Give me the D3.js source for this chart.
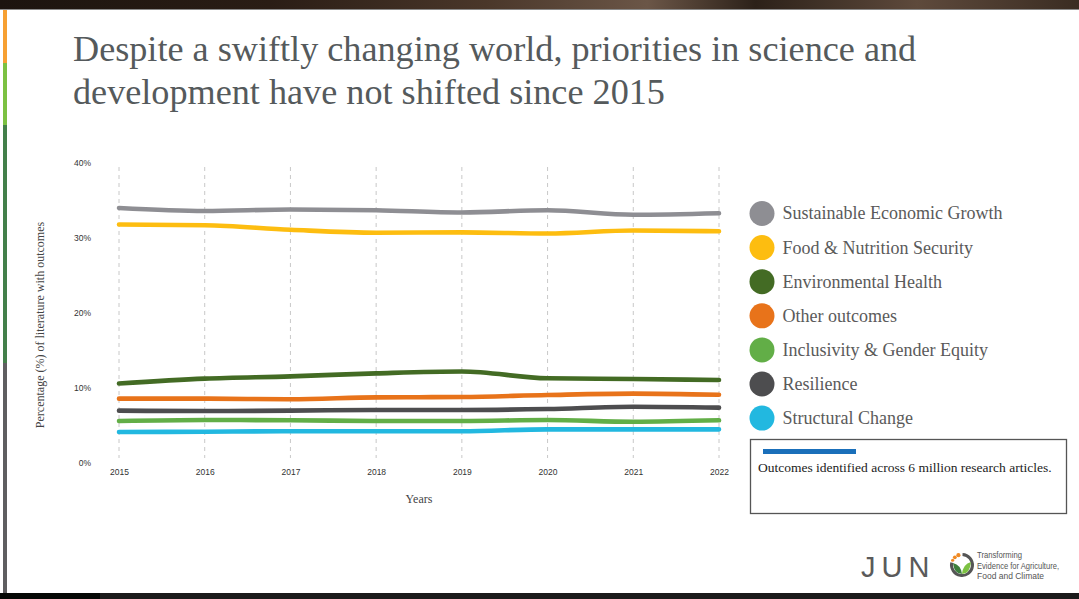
<!DOCTYPE html>
<html>
<head>
<meta charset="utf-8">
<script src="https://cdn.jsdelivr.net/npm/d3@7"></script>
<style>
  html, body { margin: 0; padding: 0; background: #fff; }
  svg { display: block; }
</style>
</head>
<body>
<div id="chart"></div>
<script>
// values (percent of literature)
const years = [2015, 2016, 2017, 2018, 2019, 2020, 2021, 2022];
const yTicks = [0, 10, 20, 30, 40];
const seriesNames = ["Sustainable Economic Growth", "Food & Nutrition Security", "Environmental Health",
    "Other outcomes", "Inclusivity & Gender Equity", "Resilience", "Structural Change"];
const seriesColors = ["#8e8e93", "#fdbd10", "#436b24", "#e8731a", "#62ae47", "#4d4d4f", "#22b8e0"];
const sustainableGrowth = [34.0, 33.6, 33.8, 33.7, 33.4, 33.7, 33.1, 33.3];
const foodNutrition = [31.8, 31.7, 31.1, 30.7, 30.75, 30.6, 31.0, 30.9];
const environmentalHealth = [10.6, 11.25, 11.55, 11.95, 12.2, 11.3, 11.2, 11.07];
const otherOutcomes = [8.58, 8.58, 8.5, 8.75, 8.8, 9.07, 9.25, 9.1];
const inclusivity = [5.6, 5.73, 5.7, 5.6, 5.6, 5.73, 5.5, 5.69];
const resilience = [6.98, 6.93, 6.98, 7.07, 7.07, 7.2, 7.5, 7.38];
const structuralChange = [4.13, 4.17, 4.24, 4.24, 4.24, 4.49, 4.49, 4.49];
const seriesValues = [sustainableGrowth, foodNutrition, environmentalHealth, otherOutcomes,
    inclusivity, resilience, structuralChange];
const legendOrder = [0, 1, 2, 3, 4, 5, 6];
const noteText = "Outcomes identified across 6 million research articles.";

const W = 1079, H = 599;
const svg = d3.select("#chart").append("svg").attr("width", W).attr("height", H);

// slide frame: photo strip at the top, dark strip at bottom, coloured side bar
const defs = svg.append("defs");
const grad = defs.append("linearGradient").attr("id", "topstrip");
[["0%", "#1c140f"], ["25%", "#2a1d15"], ["45%", "#4a372a"], ["60%", "#6b5647"],
 ["70%", "#2c2119"], ["85%", "#5e4a3c"], ["100%", "#3a2c22"]].forEach(s =>
    grad.append("stop").attr("offset", s[0]).attr("stop-color", s[1]));
svg.append("rect").attr("x", 0).attr("y", 0).attr("width", W).attr("height", 9).attr("fill", "url(#topstrip)");
svg.append("line").attr("x1", 0).attr("x2", W).attr("y1", 9.5).attr("y2", 9.5).attr("stroke", "#8a8a8a");
svg.append("rect").attr("x", 0).attr("y", 593).attr("width", W).attr("height", 6).attr("fill", "#1b1b1b");
svg.append("rect").attr("x", 0).attr("y", 593).attr("width", 100).attr("height", 6).attr("fill", "#050805");
[[10, 63, "#f7a032"], [63, 125, "#7cc142"], [125, 363, "#437f4a"], [363, 593, "#5f5e60"]].forEach(b =>
    svg.append("rect").attr("x", 3).attr("y", b[0]).attr("width", 4).attr("height", b[1] - b[0]).attr("fill", b[2]));

// title
const title = svg.append("text")
    .style("font-family", "'Liberation Serif', 'Times New Roman', serif")
    .style("font-size", "36.2px").attr("fill", "#555a5c");
title.append("tspan").attr("x", 73).attr("y", 61).text("Despite a swiftly changing world, priorities in science and");
title.append("tspan").attr("x", 73).attr("y", 104).text("development have not shifted since 2015");

// scales
const x = d3.scaleLinear().domain([2015, 2022]).range([119, 719]);
const y = d3.scaleLinear().domain([0, 40]).range([463, 163]);

// dashed vertical grid
svg.append("g").selectAll("line").data(years).join("line")
    .attr("x1", d => x(d)).attr("x2", d => x(d))
    .attr("y1", 167).attr("y2", 458)
    .attr("stroke", "#c8c8c8").attr("stroke-width", 1).attr("stroke-dasharray", "4,4");

const tickFont = "'Liberation Sans', Arial, sans-serif";
const xAxis = svg.append("g").attr("transform", "translate(0,463)")
    .call(d3.axisBottom(x).tickValues(years).tickFormat(d3.format("d")).tickSize(0).tickPadding(6));
const yAxis = svg.append("g").attr("transform", "translate(91,0)")
    .call(d3.axisLeft(y).tickValues(yTicks).tickFormat(d => d + "%").tickSize(0).tickPadding(0));
[xAxis, yAxis].forEach(a => {
    a.select(".domain").remove();
    a.selectAll("text").style("font-family", tickFont).style("font-size", "8.5px").attr("fill", "#333");
});

// axis titles
svg.append("text").attr("transform", "translate(44,325) rotate(-90)").attr("text-anchor", "middle")
    .style("font-family", "'Liberation Serif', serif").style("font-size", "12px").attr("fill", "#444")
    .text("Percentage (%) of literature with outcomes");
svg.append("text").attr("x", 419).attr("y", 503).attr("text-anchor", "middle")
    .style("font-family", "'Liberation Serif', serif").style("font-size", "12px").attr("fill", "#444")
    .text("Years");

// lines
const line = d3.line().x((d, i) => x(years[i])).y(d => y(d)).curve(d3.curveMonotoneX);
svg.append("g").selectAll("path").data(seriesValues).join("path")
    .attr("d", d => line(d)).attr("fill", "none")
    .attr("stroke", (d, i) => seriesColors[i]).attr("stroke-width", 4.6)
    .attr("stroke-linecap", "round").attr("stroke-linejoin", "round");

// legend
const legend = svg.append("g").selectAll("g").data(legendOrder).join("g")
    .attr("transform", (d, i) => "translate(762," + (213.5 + i * 34.1) + ")");
legend.append("circle").attr("r", 12.5).attr("fill", d => seriesColors[d]);
legend.append("text").attr("x", 20.5).attr("dy", "0.33em")
    .style("font-family", "'Liberation Serif', serif").style("font-size", "18px").attr("fill", "#5a5a5a")
    .text(d => seriesNames[d]);

// note box
svg.append("rect").attr("x", 750.5).attr("y", 439.5).attr("width", 316).attr("height", 74)
    .attr("fill", "#fff").attr("stroke", "#555").attr("stroke-width", 1.3);
svg.append("rect").attr("x", 763).attr("y", 449).attr("width", 93).attr("height", 5).attr("fill", "#1a6fba");
svg.append("text").attr("x", 758).attr("y", 471.5)
    .style("font-family", "'Liberation Serif', serif").style("font-size", "13.5px").attr("fill", "#222")
    .text(noteText);

// JUNO logo
const logo = svg.append("g");
logo.append("text").attr("x", 861).attr("y", 577)
    .style("font-family", "'Liberation Sans', sans-serif")
    .style("font-size", "29px").style("letter-spacing", "6px").attr("fill", "#5a5a5a")
    .text("JUN");
const cx = 962, cy = 565;
logo.append("path")
    .attr("d", d3.arc()({ innerRadius: 9, outerRadius: 12, startAngle: 0.05, endAngle: 2 * Math.PI - 1.35 }))
    .attr("transform", "translate(" + cx + "," + cy + ")").attr("fill", "#555");
[[-0.35, 2.1], [-0.75, 1.9], [-1.1, 1.6]].forEach(p =>
    logo.append("circle").attr("cx", cx + 10.5 * Math.sin(p[0])).attr("cy", cy - 10.5 * Math.cos(p[0]))
        .attr("r", p[1]).attr("fill", "#f08a24"));
logo.append("path").attr("d", `M${cx - 9},${cy - 2} Q${cx - 8},${cy + 9} ${cx},${cy + 9} Q${cx - 1},${cy} ${cx - 9},${cy - 2} Z`)
    .attr("fill", "#3d7f3b");
logo.append("path").attr("d", `M${cx + 9},${cy - 3} Q${cx + 8},${cy + 9} ${cx},${cy + 9} Q${cx + 1},${cy - 1} ${cx + 9},${cy - 3} Z`)
    .attr("fill", "#7cc142");
const tag = logo.append("text").style("font-family", "'Liberation Sans', sans-serif")
    .style("font-size", "9.5px").attr("fill", "#555");
[["Transforming", 45], ["Evidence for Agriculture,", 82], ["Food and Climate", 67]].forEach((t, i) =>
    tag.append("tspan").attr("x", 977).attr("y", 558 + i * 10.7)
        .attr("textLength", t[1]).attr("lengthAdjust", "spacingAndGlyphs").text(t[0]));
</script>
</body>
</html>
